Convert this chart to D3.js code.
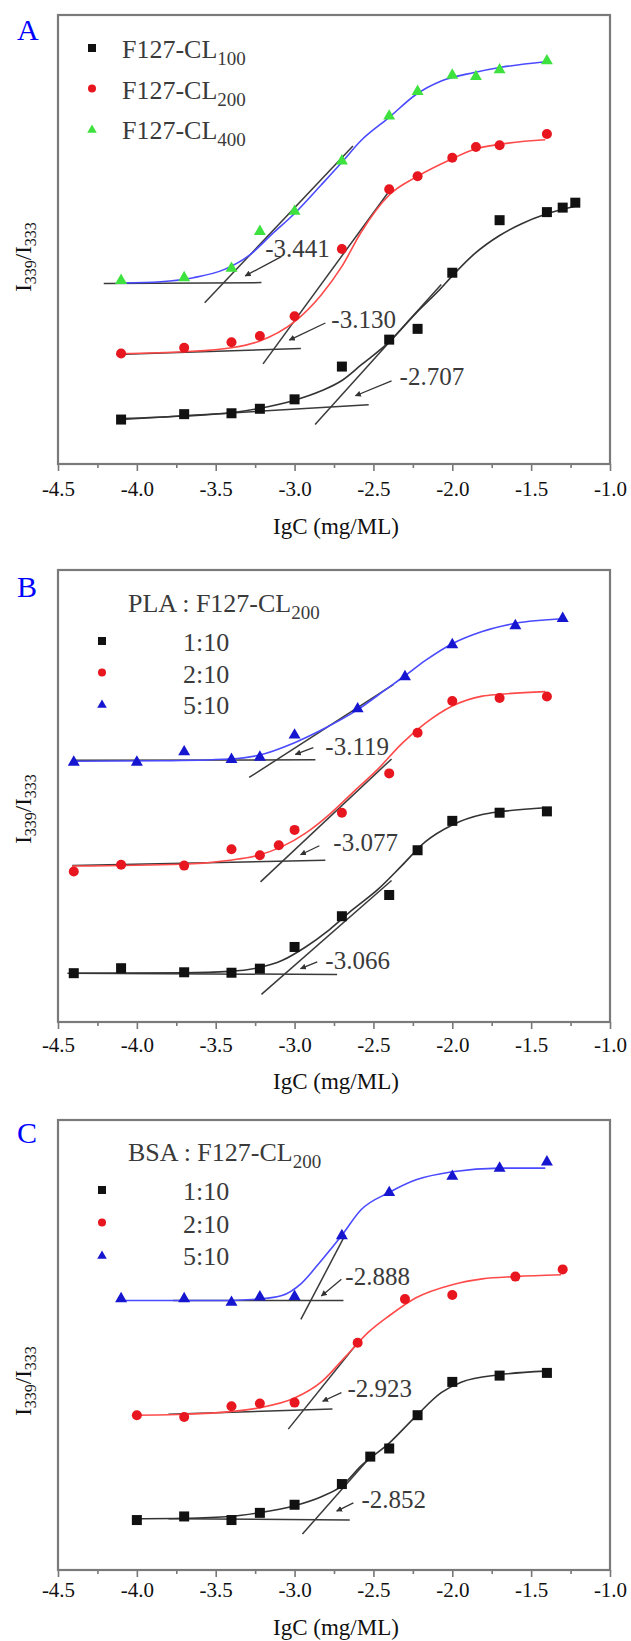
<!DOCTYPE html>
<html>
<head>
<meta charset="utf-8">
<script src="https://cdn.jsdelivr.net/npm/d3@7"></script>
<style>
  body { margin: 0; background: #fff; }
  text { font-family: "Liberation Serif", "Times New Roman", serif !important; }
  .tick text { font-size: 21px; fill: #111; }
  .tick line { stroke: #777; stroke-width: 1.6; }
</style>
</head>
<body>
<div id="chart"></div>
<script>
// x axis (lgC) ticks, shared by all three panels
const xTicks = [-4.5, -4.0, -3.5, -3.0, -2.5, -2.0, -1.5, -1.0];
const xMinor = [-4.25, -3.75, -3.25, -2.75, -2.25, -1.75, -1.25];

// ---- panel A : F127-CL100 / 200 / 400 (y in relative units, no ticks on the original) ----
const cl100X = [-4.1, -3.7, -3.4, -3.22, -3.0, -2.7, -2.4, -2.22, -2.0, -1.7, -1.4, -1.3, -1.22];
const cl100Y = [0.099, 0.111, 0.113, 0.123, 0.144, 0.217, 0.277, 0.301, 0.426, 0.543, 0.561, 0.571, 0.582];
const cl200X = [-4.1, -3.7, -3.4, -3.22, -3.0, -2.7, -2.4, -2.22, -2.0, -1.85, -1.7, -1.4];
const cl200Y = [0.246, 0.259, 0.271, 0.285, 0.329, 0.479, 0.612, 0.641, 0.682, 0.706, 0.710, 0.735];
const cl400X = [-4.1, -3.7, -3.4, -3.22, -3.0, -2.7, -2.4, -2.22, -2.0, -1.85, -1.7, -1.4];
const cl400Y = [0.411, 0.417, 0.438, 0.520, 0.565, 0.677, 0.777, 0.832, 0.868, 0.865, 0.880, 0.900];
// fitted curves
const fit100X = [-4.10, -3.70, -3.40, -3.22, -3.00, -2.83, -2.70, -2.58, -2.40, -2.23, -2.07, -2.00, -1.86, -1.70, -1.56, -1.41, -1.22];
const fit100Y = [0.101, 0.107, 0.114, 0.124, 0.142, 0.163, 0.186, 0.220, 0.272, 0.336, 0.392, 0.419, 0.468, 0.509, 0.535, 0.556, 0.574];
const fit200X = [-4.10, -3.70, -3.40, -3.22, -3.00, -2.83, -2.70, -2.58, -2.40, -2.23, -2.00, -1.86, -1.70, -1.41];
const fit200Y = [0.246, 0.250, 0.259, 0.274, 0.317, 0.377, 0.440, 0.515, 0.599, 0.639, 0.680, 0.701, 0.712, 0.722];
const fit400X = [-4.10, -3.85, -3.64, -3.44, -3.29, -3.14, -3.00, -2.83, -2.70, -2.58, -2.40, -2.23, -2.07, -1.86, -1.70, -1.41];
const fit400Y = [0.403, 0.406, 0.415, 0.434, 0.464, 0.513, 0.558, 0.622, 0.672, 0.720, 0.772, 0.823, 0.853, 0.872, 0.883, 0.896];
// tangent lines [x1, y1, x2, y2]
const tanA = [
  [-4.10, 0.099, -2.53, 0.132], [-2.87, 0.088, -2.07, 0.400],
  [-4.13, 0.244, -2.96, 0.257], [-3.20, 0.223, -2.41, 0.603],
  [-4.21, 0.402, -3.21, 0.404], [-3.57, 0.359, -2.63, 0.708]
];
// cmc labels: text, label x/y, arrow from -> to
const cmcA = [
  ["-2.707", -2.334, 0.193, -2.385, 0.185, -2.614, 0.152],
  ["-3.130", -2.767, 0.321, -2.805, 0.314, -3.033, 0.276],
  ["-3.441", -3.186, 0.479, -3.084, 0.462, -3.313, 0.419]
];

// ---- panel B : PLA : F127-CL200 ----
const pla1X = [-4.4, -4.1, -3.7, -3.4, -3.22, -3.0, -2.7, -2.4, -2.22, -2.0, -1.7, -1.4];
const pla1Y = [0.108, 0.119, 0.110, 0.109, 0.118, 0.166, 0.234, 0.281, 0.380, 0.445, 0.463, 0.466];
const pla2X = [-4.4, -4.1, -3.7, -3.4, -3.22, -3.1, -3.0, -2.7, -2.4, -2.22, -2.0, -1.7, -1.4];
const pla2Y = [0.333, 0.348, 0.346, 0.382, 0.369, 0.391, 0.425, 0.463, 0.550, 0.640, 0.710, 0.717, 0.720];
const pla5X = [-4.4, -4.0, -3.7, -3.4, -3.22, -3.0, -2.6, -2.3, -2.0, -1.6, -1.3];
const pla5Y = [0.577, 0.577, 0.600, 0.583, 0.588, 0.637, 0.695, 0.766, 0.837, 0.879, 0.895];
const fitPla1X = [-4.41, -3.71, -3.41, -3.23, -3.08, -2.93, -2.78, -2.63, -2.47, -2.32, -2.17, -2.00, -1.81, -1.70, -1.41];
const fitPla1Y = [0.108, 0.109, 0.112, 0.120, 0.136, 0.166, 0.204, 0.249, 0.294, 0.346, 0.399, 0.436, 0.459, 0.465, 0.474];
const fitPla2X = [-4.41, -3.71, -3.41, -3.23, -3.08, -2.93, -2.78, -2.63, -2.47, -2.32, -2.17, -2.00, -1.81, -1.70, -1.41];
const fitPla2Y = [0.345, 0.349, 0.358, 0.369, 0.388, 0.418, 0.459, 0.508, 0.560, 0.616, 0.661, 0.699, 0.721, 0.725, 0.731];
const fitPla5X = [-4.41, -3.85, -3.41, -3.23, -3.00, -2.83, -2.60, -2.42, -2.30, -2.17, -2.00, -1.81, -1.60, -1.30];
const fitPla5Y = [0.577, 0.578, 0.582, 0.590, 0.618, 0.646, 0.691, 0.736, 0.766, 0.800, 0.837, 0.864, 0.882, 0.892];
const tanB = [
  [-4.44, 0.108, -2.73, 0.105], [-3.21, 0.061, -2.385, 0.313],
  [-4.41, 0.346, -2.805, 0.358], [-3.216, 0.310, -2.385, 0.582],
  [-4.41, 0.579, -2.868, 0.580], [-3.288, 0.541, -2.372, 0.747]
];
const cmcB = [
  ["-3.066", -2.805, 0.136, -2.856, 0.133, -2.962, 0.118],
  ["-3.077", -2.754, 0.395, -2.843, 0.390, -2.962, 0.370],
  ["-3.119", -2.805, 0.609, -2.881, 0.607, -2.995, 0.592]
];

// ---- panel C : BSA : F127-CL200 ----
const bsa1X = [-4.0, -3.7, -3.4, -3.22, -3.0, -2.7, -2.52, -2.4, -2.22, -2.0, -1.7, -1.4];
const bsa1Y = [0.111, 0.119, 0.111, 0.127, 0.145, 0.191, 0.252, 0.270, 0.344, 0.418, 0.432, 0.438];
const bsa2X = [-4.0, -3.7, -3.4, -3.22, -3.0, -2.6, -2.3, -2.0, -1.6, -1.3];
const bsa2Y = [0.344, 0.340, 0.364, 0.370, 0.372, 0.505, 0.602, 0.611, 0.652, 0.668];
const bsa5X = [-4.1, -3.7, -3.4, -3.22, -3.0, -2.7, -2.4, -2.0, -1.7, -1.4];
const bsa5Y = [0.605, 0.605, 0.597, 0.609, 0.610, 0.745, 0.841, 0.877, 0.895, 0.909];
const fitBsa1X = [-4.01, -3.71, -3.41, -3.23, -3.00, -2.83, -2.70, -2.58, -2.40, -2.23, -2.07, -1.94, -1.70, -1.41];
const fitBsa1Y = [0.114, 0.115, 0.119, 0.127, 0.143, 0.163, 0.187, 0.231, 0.282, 0.342, 0.394, 0.418, 0.434, 0.442];
const fitBsa2X = [-4.01, -3.71, -3.41, -3.23, -3.00, -2.83, -2.68, -2.53, -2.40, -2.23, -2.00, -1.81, -1.60, -1.31];
const fitBsa2Y = [0.344, 0.346, 0.352, 0.360, 0.382, 0.418, 0.473, 0.529, 0.565, 0.605, 0.634, 0.647, 0.652, 0.656];
const fitBsa5X = [-4.11, -3.71, -3.41, -3.23, -3.08, -2.96, -2.83, -2.70, -2.58, -2.40, -2.23, -2.00, -1.70, -1.41];
const fitBsa5Y = [0.599, 0.599, 0.599, 0.602, 0.610, 0.636, 0.688, 0.744, 0.800, 0.839, 0.867, 0.885, 0.893, 0.893];
const tanC = [
  [-3.80, 0.114, -2.65, 0.111], [-2.95, 0.080, -2.50, 0.259],
  [-3.80, 0.346, -2.76, 0.358], [-3.04, 0.313, -2.60, 0.505],
  [-3.77, 0.599, -2.69, 0.599], [-2.96, 0.557, -2.68, 0.744]
];
const cmcC = [
  ["-2.852", -2.576, 0.155, -2.627, 0.149, -2.733, 0.131],
  ["-2.923", -2.665, 0.402, -2.703, 0.394, -2.822, 0.375],
  ["-2.888", -2.678, 0.652, -2.703, 0.646, -2.830, 0.609]
];

const legendA = [["F127-CL", "100"], ["F127-CL", "200"], ["F127-CL", "400"]];
const ratioLabels = ["1:10", "2:10", "5:10"];

const zip = (xs, ys) => xs.map((x, i) => ({x: x, y: ys[i]}));

const panels = [
  {letter: "A", top: 15, bottom: 464, letterY: 40, tickPad: 10, xlabOff: 70, ylabY: 257, legendTitle: null,
   legend: legendA, legTop: 48, legStep: 40.5, markX: 92, textX: 122,
   series: [
     {shape: "square", fill: "#111", line: "#333", pts: zip(cl100X, cl100Y), fit: zip(fit100X, fit100Y)},
     {shape: "circle", fill: "#e8161e", line: "#ff4a4a", pts: zip(cl200X, cl200Y), fit: zip(fit200X, fit200Y)},
     {shape: "triangle", fill: "#3ee23e", line: "#4a4aff", pts: zip(cl400X, cl400Y), fit: zip(fit400X, fit400Y)}
   ], tangents: tanA, cmc: cmcA},
  {letter: "B", top: 570, bottom: 1022, letterY: 597, tickPad: 8, xlabOff: 67, ylabY: 809, legendTitle: ["PLA : F127-CL", "200"],
   legend: ratioLabels, legTop: 641, legStep: 31.5, markX: 102, textX: 183,
   series: [
     {shape: "square", fill: "#111", line: "#333", pts: zip(pla1X, pla1Y), fit: zip(fitPla1X, fitPla1Y)},
     {shape: "circle", fill: "#e8161e", line: "#ff4a4a", pts: zip(pla2X, pla2Y), fit: zip(fitPla2X, fitPla2Y)},
     {shape: "triangle", fill: "#1616d0", line: "#4a4aff", pts: zip(pla5X, pla5Y), fit: zip(fitPla5X, fitPla5Y)}
   ], tangents: tanB, cmc: cmcB},
  {letter: "C", top: 1120, bottom: 1570, letterY: 1143, tickPad: 5, xlabOff: 65, ylabY: 1381, legendTitle: ["BSA : F127-CL", "200"],
   legend: ratioLabels, legTop: 1190, legStep: 32.5, markX: 102, textX: 183,
   series: [
     {shape: "square", fill: "#111", line: "#333", pts: zip(bsa1X, bsa1Y), fit: zip(fitBsa1X, fitBsa1Y)},
     {shape: "circle", fill: "#e8161e", line: "#ff4a4a", pts: zip(bsa2X, bsa2Y), fit: zip(fitBsa2X, fitBsa2Y)},
     {shape: "triangle", fill: "#1616d0", line: "#4a4aff", pts: zip(bsa5X, bsa5Y), fit: zip(fitBsa5X, fitBsa5Y)}
   ], tangents: tanC, cmc: cmcC}
];

const W = 631, H = 1641;
const left = 58, right = 610;
const serif = "Liberation Serif, Times New Roman, serif";

const svg = d3.select("#chart").append("svg")
  .attr("width", W).attr("height", H)
  .style("display", "block");

svg.append("rect").attr("width", W).attr("height", H).attr("fill", "#fff");

const defs = svg.append("defs");
defs.append("marker")
  .attr("id", "arrowhead")
  .attr("viewBox", "0 0 10 10")
  .attr("refX", 9).attr("refY", 5)
  .attr("markerWidth", 6).attr("markerHeight", 6)
  .attr("markerUnits", "userSpaceOnUse")
  .attr("orient", "auto")
  .append("path").attr("d", "M0,0 L10,5 L0,10 Z").attr("fill", "#333");

const x = d3.scaleLinear().domain([-4.5, -1.0]).range([left, right]);

function drawMarker(g, shape, fill, cx, cy, s) {
  if (shape === "square") {
    g.append("rect").attr("x", cx - s / 2).attr("y", cy - s / 2)
      .attr("width", s).attr("height", s).attr("fill", fill);
  } else if (shape === "circle") {
    g.append("circle").attr("cx", cx).attr("cy", cy).attr("r", s / 2).attr("fill", fill);
  } else {
    g.append("path")
      .attr("d", d3.symbol().type(d3.symbolTriangle).size(s * s * 0.62)())
      .attr("transform", "translate(" + cx + "," + (cy + 1) + ")")
      .attr("fill", fill);
  }
}

panels.forEach(p => {
  const y = d3.scaleLinear().domain([0, 1]).range([p.bottom, p.top]);
  const g = svg.append("g");

  // bottom axis: major + minor ticks
  g.append("g")
    .attr("transform", "translate(0," + p.bottom + ")")
    .call(d3.axisBottom(x).tickValues(xTicks).tickSize(7).tickPadding(p.tickPad)
      .tickFormat(d => d.toFixed(1)))
    .attr("font-family", serif)
    .call(a => a.select(".domain").remove());
  g.append("g")
    .attr("transform", "translate(0," + p.bottom + ")")
    .call(d3.axisBottom(x).tickValues(xMinor).tickSize(4).tickFormat(""))
    .call(a => a.select(".domain").remove());

  // frame
  g.append("rect")
    .attr("x", left).attr("y", p.top)
    .attr("width", right - left).attr("height", p.bottom - p.top)
    .attr("fill", "none").attr("stroke", "#7a7a7a").attr("stroke-width", 2.2);

  // axis titles
  g.append("text")
    .attr("x", (left + right) / 2 + 2).attr("y", p.bottom + p.xlabOff)
    .attr("text-anchor", "middle").attr("font-size", 23).attr("fill", "#111")
    .text("IgC (mg/ML)");

  const yl = g.append("text")
    .attr("transform", "translate(31," + p.ylabY + ") rotate(-90)")
    .attr("text-anchor", "middle").attr("font-size", 23).attr("fill", "#111");
  yl.append("tspan").text("I");
  yl.append("tspan").attr("font-size", 16).attr("dy", 5).text("339");
  yl.append("tspan").attr("dy", -5).text("/I");
  yl.append("tspan").attr("font-size", 16).attr("dy", 5).text("333");

  // panel letter
  g.append("text").attr("x", 17).attr("y", p.letterY)
    .attr("font-size", 30).attr("fill", "#0000ff").text(p.letter);

  // tangent lines
  g.selectAll(".tan").data(p.tangents).enter().append("line")
    .attr("x1", d => x(d[0])).attr("y1", d => y(d[1]))
    .attr("x2", d => x(d[2])).attr("y2", d => y(d[3]))
    .attr("stroke", "#3a3a3a").attr("stroke-width", 1.5);

  // fitted curves
  const line = d3.line().x(d => x(d.x)).y(d => y(d.y)).curve(d3.curveMonotoneX);
  p.series.forEach(s => {
    g.append("path").datum(s.fit)
      .attr("d", line).attr("fill", "none")
      .attr("stroke", s.line).attr("stroke-width", 1.6);
  });

  // data markers
  p.series.forEach(s => {
    const mg = g.append("g");
    s.pts.forEach(d => drawMarker(mg, s.shape, s.fill, x(d.x), y(d.y), 10));
  });

  // cmc labels with arrows
  p.cmc.forEach(c => {
    g.append("line")
      .attr("x1", x(c[3])).attr("y1", y(c[4]))
      .attr("x2", x(c[5])).attr("y2", y(c[6]))
      .attr("stroke", "#333").attr("stroke-width", 1.3)
      .attr("marker-end", "url(#arrowhead)");
    g.append("text")
      .attr("x", x(c[1])).attr("y", y(c[2]) + 8)
      .attr("font-size", 25).attr("fill", "#3a3a3a")
      .text(c[0]);
  });

  // legend
  let legTop = p.legTop;
  if (p.legendTitle) {
    const t = g.append("text").attr("x", 128).attr("y", legTop - 29)
      .attr("font-size", 26).attr("fill", "#3a3a3a");
    t.append("tspan").text(p.legendTitle[0]);
    t.append("tspan").attr("font-size", 19).attr("dy", 7).text(p.legendTitle[1]);
  }
  p.legend.forEach((lab, i) => {
    const cy = legTop + i * p.legStep;
    drawMarker(g, p.series[i].shape, p.series[i].fill, p.markX, cy, 8);
    const t = g.append("text").attr("x", p.textX).attr("y", cy + 10)
      .attr("font-size", 26).attr("fill", "#3a3a3a");
    if (Array.isArray(lab)) {
      t.append("tspan").text(lab[0]);
      t.append("tspan").attr("font-size", 19).attr("dy", 7).text(lab[1]);
    } else {
      t.text(lab);
    }
  });
});
</script>
</body>
</html>
